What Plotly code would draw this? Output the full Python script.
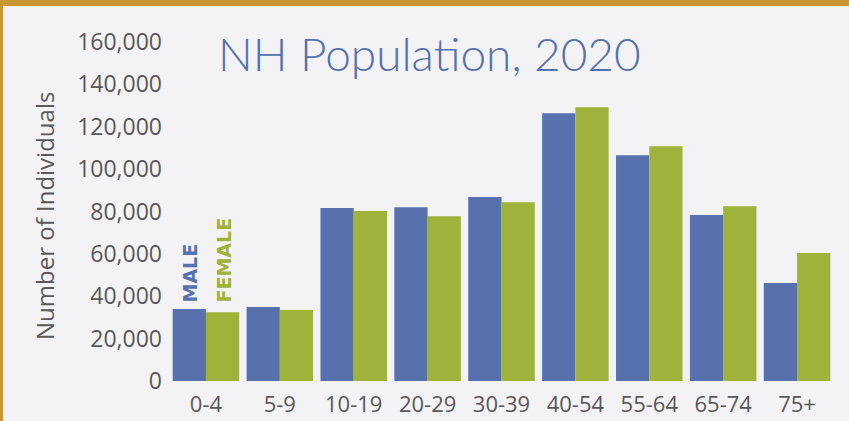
import plotly.graph_objects as go

categories = ["0-4", "5-9", "10-19", "20-29", "30-39", "40-54", "55-64", "65-74", "75+"]
male = [34000, 34900, 81600, 82000, 86800, 126400, 106600, 78300, 46200]
female = [32500, 33500, 80200, 77800, 84400, 129200, 110800, 82500, 60400]
y_ticks = [0, 20000, 40000, 60000, 80000, 100000, 120000, 140000, 160000]

BLUE = "#5671AD"
GREEN = "#9FB33B"
GOLD = "#C9962F"
BG = "#F3F3F5"
GRAY = "#5a5758"

W, H = 849, 421
ML, MR, MT, MB = 169, 15, 42, 40
PW, PH = W - ML - MR, H - MT - MB

fig = go.Figure()
fig.add_trace(go.Bar(x=categories, y=male, name="MALE", marker=dict(color=BLUE, line=dict(width=0))))
fig.add_trace(go.Bar(x=categories, y=female, name="FEMALE", marker=dict(color=GREEN, line=dict(width=0))))

def px_x(p):
    return (p - ML) / PW

def px_y(p):
    return 1 - (p - MT) / PH

fig.update_layout(
    width=W, height=H,
    margin=dict(l=ML, r=MR, t=MT, b=MB, pad=0, autoexpand=False),
    paper_bgcolor=BG, plot_bgcolor=BG,
    barmode="group", bargap=0.1, bargroupgap=0,
    showlegend=False,
    font=dict(family="Open Sans", color=GRAY),
    xaxis=dict(showgrid=False, showline=False, zeroline=False, ticks="", ticklabelstandoff=8,
               automargin=False,
               tickfont=dict(size=22, color=GRAY, family="Open Sans")),
    yaxis=dict(range=[0, 160000], tickvals=y_ticks, tickformat=",", showgrid=False,
               showline=False, zeroline=False, ticks="", ticklabelstandoff=6, automargin=False,
               tickfont=dict(size=23, color=GRAY, family="Open Sans")),
    shapes=[
        dict(type="rect", xref="paper", yref="paper", x0=px_x(0), x1=px_x(W), y0=px_y(6), y1=px_y(0),
             fillcolor=GOLD, line=dict(width=0), layer="above"),
        dict(type="rect", xref="paper", yref="paper", x0=px_x(0), x1=px_x(3), y0=px_y(H), y1=px_y(0),
             fillcolor=GOLD, line=dict(width=0), layer="above"),
    ],
    annotations=[
        dict(text="NH Population, 2020", xref="paper", yref="paper", x=px_x(429), y=px_y(53),
             xanchor="center", yanchor="middle", showarrow=False,
             font=dict(family="Lato", size=46, color=BLUE, weight=300)),
        dict(text="Number of Individuals", xref="paper", yref="paper", x=px_x(44), y=px_y(216),
             xanchor="center", yanchor="middle", showarrow=False, textangle=-90,
             font=dict(family="Open Sans", size=24, color=GRAY)),
        dict(text="<b>MALE</b>", xref="paper", yref="paper", x=px_x(189), y=px_y(305),
             xanchor="center", yanchor="bottom", showarrow=False, textangle=-90,
             font=dict(family="DejaVu Sans", size=19, color=BLUE)),
        dict(text="<b>FEMALE</b>", xref="paper", yref="paper", x=px_x(223), y=px_y(305),
             xanchor="center", yanchor="bottom", showarrow=False, textangle=-90,
             font=dict(family="DejaVu Sans", size=19, color=GREEN)),
    ],
)

fig.write_html("out.html", config={"displayModeBar": False},
               post_script="document.body.style.margin='0';document.body.style.padding='0';")
